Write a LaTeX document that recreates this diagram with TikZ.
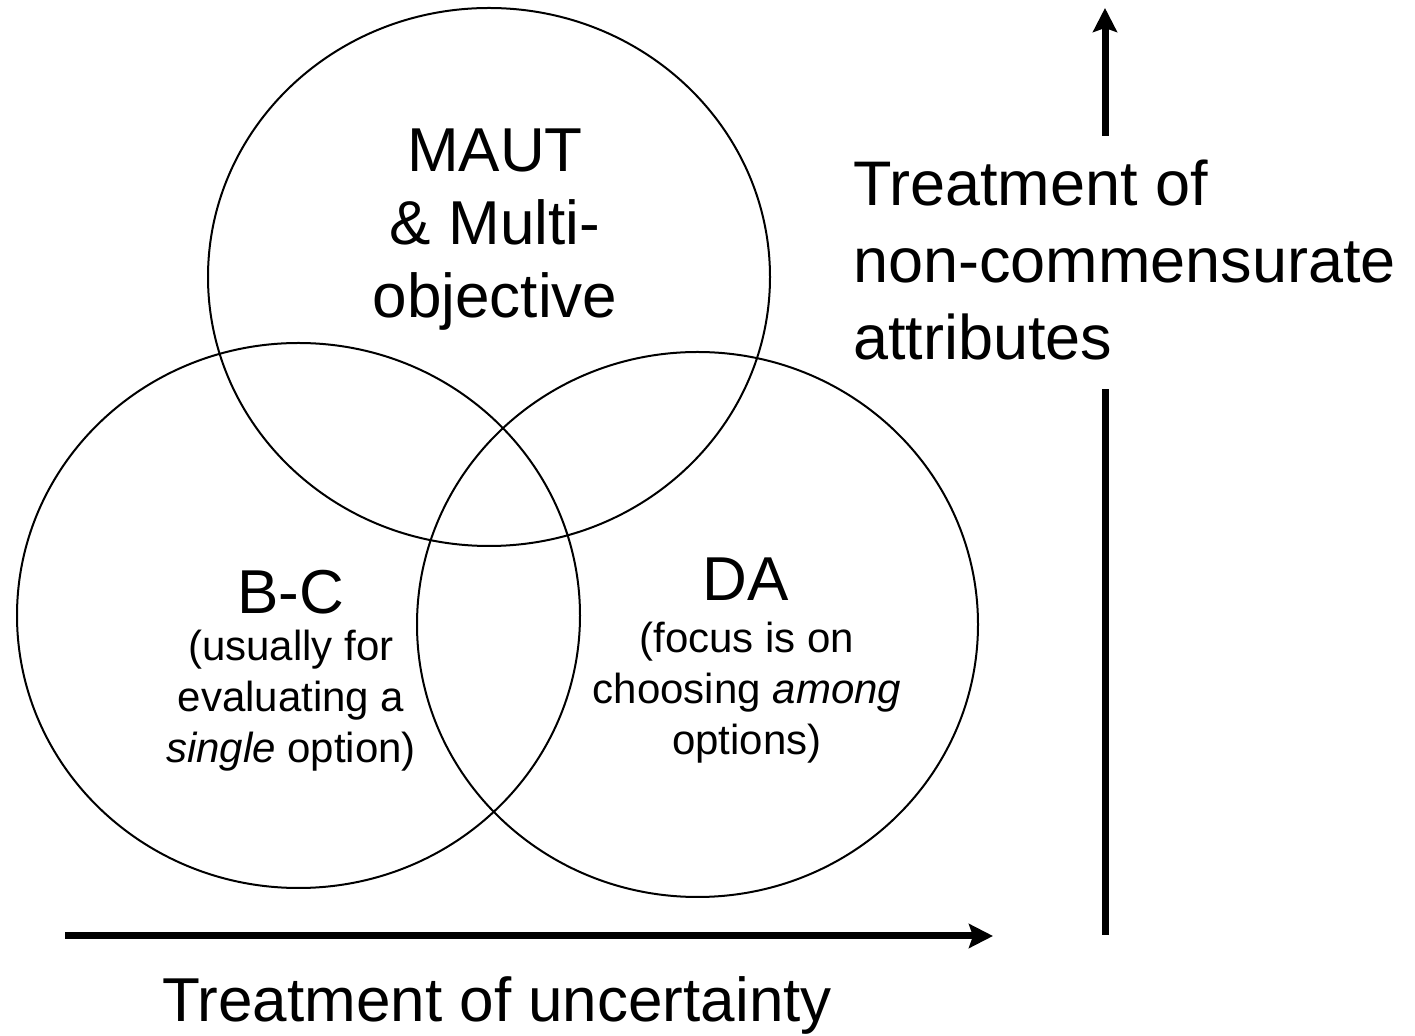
\documentclass[tikz,border=0pt]{standalone}
\usepackage{fontspec}
\setmainfont{Liberation Sans}
\usetikzlibrary{arrows.meta}

\begin{document}
\begin{tikzpicture}[x=0.5pt,y=-0.5pt,line width=1pt,
  big/.style={font=\fontsize{31}{36.5}\selectfont,inner sep=0pt,align=center},
  small/.style={font=\fontsize{21}{25.5}\selectfont,inner sep=0pt,align=center},
  axis/.style={line width=3.5pt},
  axisarrow/.style={axis,-{Stealth[length=12pt,width=12pt,inset=2pt]}}]
\useasboundingbox (0,0) rectangle (1415,1036);
% three circles
\draw (489,277) ellipse [x radius=281, y radius=269];
\draw (298.5,615.5) ellipse [x radius=281.5, y radius=272.5];
\draw (697.5,624.5) ellipse [x radius=280.5, y radius=272.5];
% circle labels (base = last line)
\node[big,anchor=base] (maut) at (495,318) {MAUT\\\& Multi-\\objective};
\node[big,anchor=base] (bc) at (291,614) {B-C};
\node[small,anchor=base] (bcnote) at (291,763) {(usually for\\evaluating a\\\textit{single} option)};
\node[big,anchor=base] (da) at (746,601) {DA};
\node[small,anchor=base] (danote) at (747,755) {(focus is on\\choosing \textit{among}\\options)};
% axes
\coordinate (xstart) at (65,936);
\coordinate (xend) at (993,936);
\coordinate (ybot) at (1105,935);
\coordinate (ybreak) at (1105,389);
\coordinate (yresume) at (1105,136);
\coordinate (ytop) at (1105,8);
\draw[axisarrow] (xstart) -- (xend);
\draw[axis] (ybot) -- (ybreak);
\draw[axisarrow] (yresume) -- (ytop);
\node[font=\fontsize{31}{36.5}\selectfont,inner sep=0pt,anchor=base] (xlabel) at (497,1022) {Treatment of uncertainty};
\node[font=\fontsize{31.5}{38.5}\selectfont,inner sep=0pt,align=left,anchor=base west] (ylabel) at (852,360) {Treatment of\\non-commensurate\\attributes};
\end{tikzpicture}
\end{document}
